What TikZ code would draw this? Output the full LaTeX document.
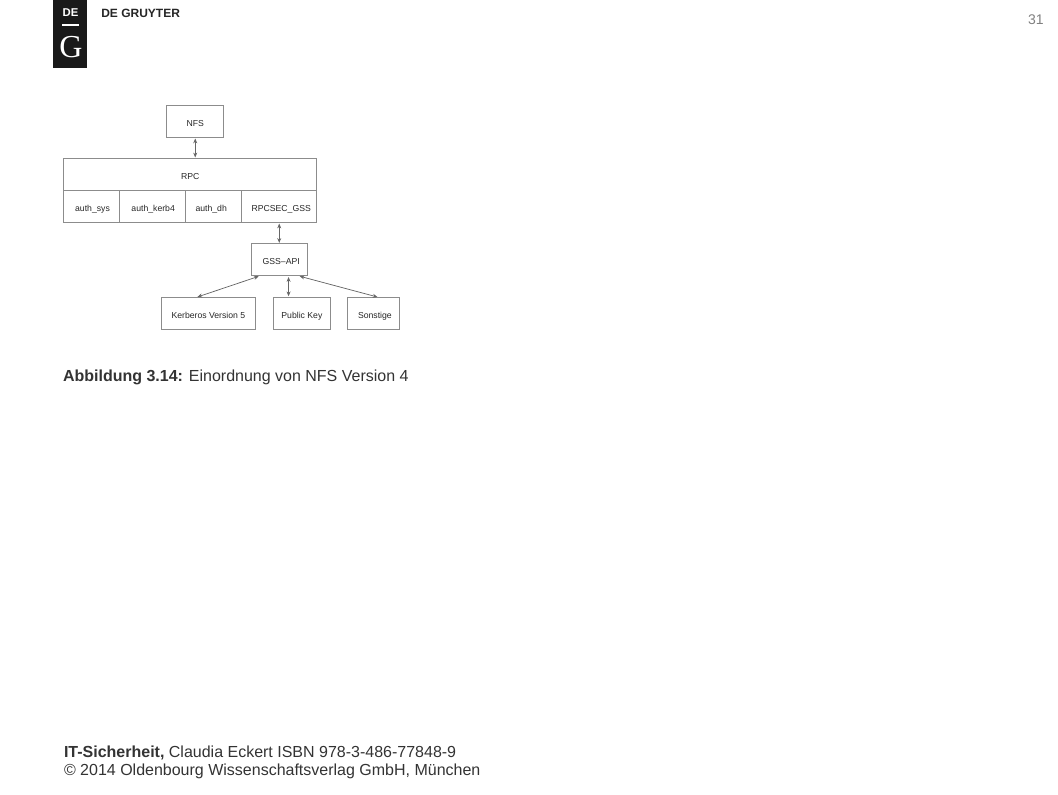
\documentclass[tikz,border=0pt]{standalone}
\usepackage{fontspec}
\setmainfont{Liberation Sans}
\newfontfamily\logoserif{Liberation Serif}
\usepackage{xcolor}
\usetikzlibrary{arrows.meta,positioning}

\begin{document}
\begin{tikzpicture}[
  x=0.75pt, y=-0.75pt, >={Stealth[length=3.6pt,width=3pt]},
  block/.style={draw=black!45, line width=0.75pt, inner sep=0pt, outer sep=0pt, minimum height=24pt, text height=7.5pt, text depth=0pt, font=\fontsize{6.5}{8}\selectfont, text=black!85, align=center},
  arrow/.style={<->, line width=0.55pt, black!60, shorten >=0.8pt, shorten <=0.8pt},
  foot/.style={inner sep=0pt, outer sep=0pt, anchor=base west, text=black!80, font=\fontsize{12}{14}\selectfont}
]
\useasboundingbox (0,0) rectangle (1058,794);

% logo and page number
\node[fill=black!90, minimum width=25.5pt, minimum height=51pt, inner sep=0pt, outer sep=0pt, anchor=north west] (logo) at (53,0) {};
\node[text=white, inner sep=0pt, font=\fontsize{8.5}{10}\selectfont\bfseries] (logode) at (70.5,13) {DE};
\draw[white, line width=0.9pt] (logode.south west |- 0,25) coordinate (barl) -- (logode.south east |- 0,25) coordinate (barr);
\node[text=white, inner sep=0pt, font=\fontsize{24}{28}\logoserif] (logog) at (71,47) {G};
\node[inner sep=0pt, anchor=base west, text=black!85, font=\fontsize{9}{10}\selectfont\bfseries] (brand) at (101,17) {DE GRUYTER};
\node[inner sep=0pt, anchor=base east, text=black!50, font=\fontsize{10.5}{12}\selectfont] (pageno) at (1044,24) {31};

% diagram
\node[block, minimum width=42pt] (sys) at (91.5,206.5) {\hspace*{1.5pt}auth\_sys};
\node[block, minimum width=49.5pt, right=0pt of sys] (kerb) {\hspace*{1pt}auth\_kerb4};
\node[block, minimum width=42pt, right=0pt of kerb] (dh) {auth\_dh\hspace*{3.5pt}};
\node[block, minimum width=56.6pt, right=0pt of dh] (gssec) {\hspace*{3pt}RPCSEC\_GSS};
\node[block, minimum width=190.1pt, above right=0pt and 0pt of sys.north west] (rpc) {RPC};
\node[block, minimum width=42.75pt, minimum height=23.6pt, above=15.8pt of rpc, xshift=3.75pt] (nfs) {NFS};
\node[block, minimum width=42pt, below=16.1pt of gssec] (gss) {\hspace*{3pt}GSS--API};
\node[block, minimum width=42.75pt, below=16pt of gss, xshift=17pt] (pub) {Public Key};
\node[block, minimum width=70.5pt, left=13.5pt of pub] (krb) {Kerberos Version 5};
\node[block, minimum width=39pt, right=13.1pt of pub] (son) {\hspace*{1.5pt}Sonstige};

\draw[arrow] (nfs.south) -- (nfs.south |- rpc.north);
\draw[arrow] (gssec.south) -- (gss.north);
\draw[arrow] ([xshift=-14.6pt]gss.south) -- ([xshift=-9pt]krb.north);
\draw[arrow] ([xshift=7pt]gss.south) -- ([xshift=7pt]gss.south |- pub.north);
\draw[arrow] ([xshift=14.6pt]gss.south) -- ([xshift=3.5pt]son.north);

% caption and footer
\node[foot] (caption) at (63,381) {\textbf{Abbildung 3.14:} Einordnung von NFS Version 4};
\node[foot] (foot1) at (64,757) {\textbf{IT-Sicherheit,} Claudia Eckert ISBN 978-3-486-77848-9};
\node[foot] (foot2) at (64,775) {© 2014 Oldenbourg Wissenschaftsverlag GmbH, München};

\end{tikzpicture}
\end{document}
